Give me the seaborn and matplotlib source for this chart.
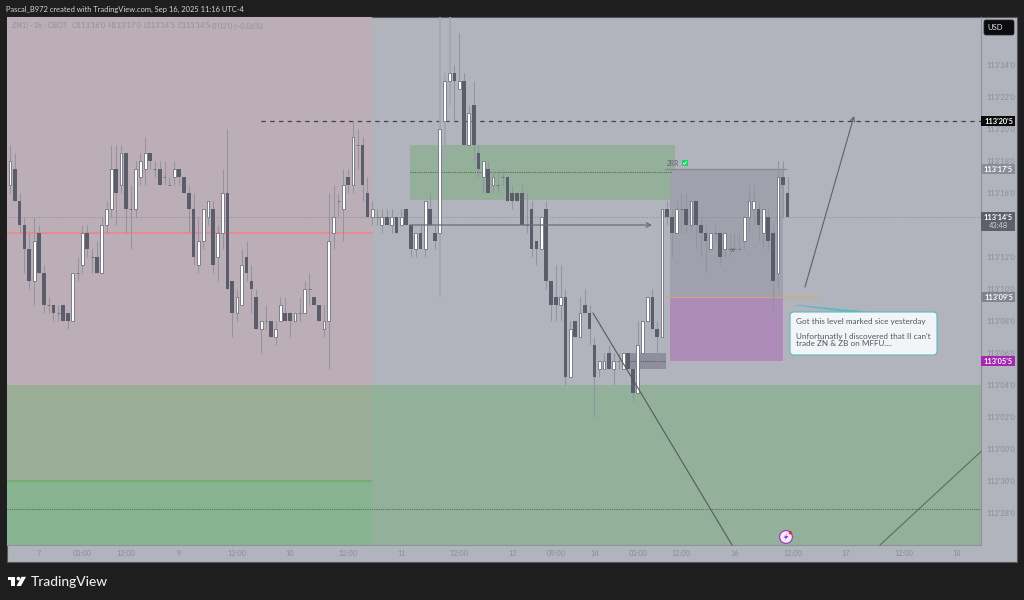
import pandas as pd
import seaborn as sns
import matplotlib.pyplot as plt
from matplotlib.patches import Rectangle, FancyBboxPatch, Circle, Polygon

# Prices are in 32nds above 113'00
opens = [16.5,17.5,15.5,14,12.5,10.5,13.5,11,9,9,
         8.5,9,8.5,8,11,11.5,13.5,12,12,11,
         14,15,17.5,16.5,18.5,15,15,17,17.5,18.5,
         17.5,17.5,17,16.5,17,17.5,17,16,15,11.5,
         13,14.5,15,12,13.5,16,10.5,8.5,9,12,
         10.5,9.5,7.5,8,8,7,8,8.5,8.5,8,
         8.5,8.5,10,9.5,9,7.5,8,13.5,15.5,15,
         17,16.5,19,19,16,14.5,14.5,14,14.5,14,
         14.5,14,15,14,12.5,13.5,12.5,15,13.5,13.5,
         20.5,23,23.5,22.5,23,19,21.5,18.5,17,17.5,
         16.5,16.5,17,17,16,16,16,14,15,13,
         12.5,15,10.5,9.5,9,9.5,4.5,8,7,9,
         8.5,6.5,5,5,6,5,5.5,5,6,5,
         3.5,6,8,9.5,7.5,7,15,14.5,13.5,15,
         15,14,15.5,14,13.5,12.5,13.5,13.5,12.5,12.5,
         12.5,12.5,13,14.5,15,15,13.5,14.5,13.5,11,
         17,16]
closes = [18,15.5,14,12.5,10.5,13,11,9,9,8.5,
          8.5,8,8,11,11,13.5,12.5,12,11,14,
          15,17.5,16,18.5,15,15,17.5,18,18.5,18,
          17.5,16.5,17,16.5,17.5,17,16,15,12,13,
          15,15.5,11.5,13.5,16,10,8.5,9.5,11.5,11,
          10,7.5,8,8,7,7.5,9,8,8,8.5,
          8.5,10,10,9,8,8,13,14.5,15.5,16.5,
          16.5,19.5,19,16.5,14.5,15,14.5,14.5,14,14.5,
          13.5,14.5,14,12.5,13.5,12.5,15.5,14,13,20,
          23,23.5,23,23,19,21,19,17.5,18,16,
          17,16.5,17,15.5,15.5,15.5,14,14,12.5,12.5,
          14.5,10.5,9,9,9.5,4.5,7.5,7,8.5,8.5,
          7.5,4.5,5.5,5.5,5,5.5,5.5,6,5,3.5,
          6.5,8,9.5,7.5,7,15,14.5,13.5,15,15,
          14,15.5,14,13.5,13,13.5,13.5,12,13.5,12.5,
          12.5,12.5,14.5,15.5,15.5,14,15,13,10.5,17,
          16.5,14.5]
highs = [19,18.5,16,14.5,13.5,14.5,14,11.5,9.5,9,
         9,9,8.5,11,12,14,14,12.5,13,14.5,
         15.5,19,19,19,18.5,16.5,18,18.5,19.5,18.5,
         18,18,18,17,18,17.5,17,16.5,16,14.5,
         15,15.5,15.5,14,17.5,20,10.5,10,12.5,13,
         11.5,10,8,9,8,8,9.5,9.5,8.5,8.5,
         9.5,10.5,11,9.5,9,9,16,16.5,16,17.5,
         17.5,20.5,20,19.5,17,15.5,15,15,15,15,
         14.5,15,15,14,13.5,14,15.5,16,14,28,
         23.5,28,24,26,23.5,21.5,23,19,18,18,
         17.5,17.5,17.5,17,16.5,16,16.5,16,15.5,13,
         14.5,15.5,10.5,11.5,11.5,10,8,8,9.5,10,
         9,7,5.5,6,6.5,6,6,6,6,5,
         8,8,9.5,10,8,15,15.5,15,15.5,16,
         16,15.5,15.5,14.5,14,13.5,14,13.5,13.5,13.5,
         13.5,13.5,14.5,16.5,16.5,15.5,15,15,14,18,
         18,17]
lows = [16,15.5,13.5,11,10,9,11,8.5,8.5,8,
        8,8,7.5,8,10.5,11,12,11,11,11,
        13.5,14.5,14,16,13.5,12.5,14.5,16.5,16.5,17.5,
        17,16.5,16.5,16.5,16.5,16.5,16,13.5,11.5,11,
        12.5,14,11,10.5,12.5,10,7,8,9,10.5,
        8.5,7.5,6,7.5,7,6.5,8,8,7,8,
        8,8.5,9,9,8,7,5,12.5,14.5,13,
        16,16,17.5,15.5,14.5,14,14,13.5,14,13.5,
        13.5,14,14,12,12,12.5,12,14,12.5,9.5,
        18,21.5,20.5,22.5,19,19,18,17,16,16,
        16,16,16.5,15.5,15,15.5,14,13.5,12,11.5,
        12.5,10,8,8,8,4,4.5,7,7,8.5,
        6.5,2,4.5,5,5,4,5,5,5,3,
        3.5,6,8,7.5,5.5,7,14,12,13.5,13.5,
        13.5,13.5,12.5,12,11,12.5,13,11.5,12,12,
        12.5,12.5,12.5,13.5,14,13,12.5,12.5,8.5,10,
        14.5,14.5]
thick_wicks = [89, 90, 91]

price_ticks = [24, 22, 20, 18, 16, 12, 10, 8, 6, 4, 2, 0, -2, -4]
price_labels = ["113'24'0", "113'22'0", "113'20'0", "113'18'0", "113'16'0", "113'12'0", "113'10'0",
                "113'08'0", "113'06'0", "113'04'0", "113'02'0", "113'00'0", "112'30'0", "112'28'0"]
time_ticks = [6, 15, 24, 35, 47, 58, 70, 81, 93, 104, 113, 121, 130, 139, 150, 162, 173, 185, 196]
time_labels = ['7', '03:00', '12:00', '9', '12:00', '10', '12:00', '11', '12:00', '12', '09:00',
               '14', '03:00', '12:00', '16', '12:00', '17', '12:00', '18']

BG = '#b2b4bd'
TICK = '#8b8d97'

sns.set_theme(style='white')
plt.rcParams['font.family'] = ['Lato', 'DejaVu Sans']

candles = pd.DataFrame({'bar': range(len(opens)), 'open': opens, 'close': closes, 'high': highs, 'low': lows})
candles['top'] = candles[['open', 'close']].max(axis=1)
candles['bottom'] = candles[['open', 'close']].min(axis=1)
wicks = candles.melt(id_vars='bar', value_vars=['high', 'low'], value_name='price').sort_values('bar')

fig = plt.figure(figsize=(10.24, 6), dpi=100, facecolor='#1e1e1e')


def pixel_axes(z):
    a = fig.add_axes([0, 0, 1, 1], zorder=z)
    a.set_xlim(0, 1024)
    a.set_ylim(600, 0)
    a.axis('off')
    a.patch.set_alpha(0)
    return a


under = pixel_axes(0)
over = pixel_axes(2)
under.add_patch(Rectangle((7, 17), 1010, 544.5, fc=BG, ec='#55565c', lw=0.8))

# chart pane, x is bar number and y is price
ax = fig.add_axes([7 / 1024, 1 - 545 / 600, 974 / 1024, 528 / 600], zorder=1)
ax.patch.set_alpha(0)
ax.set_xlim(-0.62, 201.04)
ax.set_ylim(-6, 27)
for s in ['top', 'left']:
    ax.spines[s].set_visible(False)
for s in ['bottom', 'right']:
    ax.spines[s].set_color('#90919b')
    ax.spines[s].set_linewidth(0.8)

# zones
ax.axvspan(-0.62, 75, color='#bbaeb6', lw=0, zorder=1)
ax.axhspan(-6, 4, color='#93b09a', lw=0, zorder=1.1)
ax.fill_between([-0.62, 75], -2, 4, color='#9aae97', lw=0, zorder=1.2)
ax.fill_between([-0.62, 75], -6, -2, color='#88b391', lw=0, zorder=1.2)
ax.fill_between([82.8, 137.7], 15.56, 19, color='#94b09b', lw=0, zorder=1.3)
ax.fill_between([136.7, 160], 9.5, 17.5, color='#a0a1ac', lw=0, zorder=1.3)
ax.fill_between([136.7, 160], 5.5, 9.5, color='#ad8cb9', lw=0, zorder=1.3)
ax.fill_between([127, 135.8], 5, 6, color='#8e8f9a', lw=0, zorder=1.3)

ax.plot([-0.62, 75], [13.5, 13.5], color='#e88a90', lw=1.3, zorder=1.5)
ax.plot([-0.62, 75], [-2, -2], color='#68ae6c', lw=1.1, zorder=1.5)
ax.axhline(14.5, color='#8b8c94', lw=0.7, ls=(0, (1, 1.5)), zorder=1.5)
ax.axhline(-3.72, color='#56705c', lw=0.8, ls=(0, (1, 1)), zorder=1.5)
ax.plot([82.8, 137], [17.3, 17.3], color='#4f6c57', lw=0.8, ls=(0, (1, 1)), zorder=1.5)
ax.plot([127, 135.8], [5.5, 5.5], color='#555660', lw=0.7, ls=(0, (1, 1)), zorder=1.5)
ax.plot([52, 201.04], [20.5, 20.5], color='#43444a', lw=0.9, ls=(0, (3.5, 3.5)), zorder=1.5)
ax.plot([135, 167.5], [9.5, 9.5], color='#d8a668', lw=0.7, zorder=1.5)
ax.plot([135.6, 160.7], [17.5, 17.5], color='#85868f', lw=0.9, zorder=1.5)

# candles
sns.lineplot(data=wicks[~wicks['bar'].isin(thick_wicks)], x='bar', y='price', units='bar', estimator=None,
             color='#92949f', lw=0.75, sort=False, legend=False, ax=ax, zorder=3, solid_capstyle='butt')
sns.lineplot(data=wicks[wicks['bar'].isin(thick_wicks)], x='bar', y='price', units='bar', estimator=None,
             color='#a3a5b0', lw=1.3, sort=False, legend=False, ax=ax, zorder=3, solid_capstyle='butt')
white = candles[candles['close'] > candles['open']]
dark = candles[candles['close'] < candles['open']]
doji = candles[candles['close'] == candles['open']]
ax.bar(dark['bar'], dark['top'] - dark['bottom'], bottom=dark['bottom'], width=0.76, color='#5b5d6b', lw=0, zorder=4)
ax.bar(white['bar'], white['top'] - white['bottom'], bottom=white['bottom'], width=0.58, color='white',
       edgecolor='#7d7e88', lw=0.7, zorder=4)
ax.bar(doji['bar'], 0, bottom=doji['bottom'], width=0.6, color='#6c6d78', edgecolor='#6c6d78', lw=0.6, zorder=4)

ax.set_xlabel('')
ax.set_ylabel('')
ax.yaxis.tick_right()
ax.set_yticks(price_ticks, price_labels)
ax.set_xticks(time_ticks, time_labels)
ax.tick_params(axis='both', length=0, labelsize=5.3, labelcolor=TICK)
ax.tick_params(axis='y', pad=3.6)
ax.tick_params(axis='x', pad=3.8)

# drawings, in pixels
line_col = '#5f6068'
over.annotate('', xy=(652, 225), xytext=(410, 225),
              arrowprops=dict(arrowstyle='->', color='#6b6c74', lw=0.9, mutation_scale=8, shrinkA=0, shrinkB=0))
over.annotate('', xy=(854, 116), xytext=(805, 287),
              arrowprops=dict(arrowstyle='->', color=line_col, lw=0.8, mutation_scale=8, shrinkA=0, shrinkB=0))
over.plot([593, 732], [313, 545], color='#565a5c', lw=0.8)
over.plot([880, 981], [545, 451.5], color='#5c6e5e', lw=0.8)

# price labels
boxes = [("113'20'5", 121, '#0a0a0a'), ("113'17'5", 169, '#8b8c98'),
         ("113'09'5", 297, '#83848f'), ("113'05'5", 361, '#a428b0')]
for text, y, col in boxes:
    over.add_patch(Rectangle((981, y - 5.2), 34, 10.4, fc=col, lw=0))
    over.text(998.5, y, text, color='white', fontsize=5.3, fontweight='bold', ha='center', va='center')
over.add_patch(Rectangle((981, 211.7), 34, 19, fc='#5e5f6b', lw=0))
over.text(998.5, 217, "113'14'5", color='white', fontsize=5.3, fontweight='bold', ha='center', va='center')
over.text(998.5, 226, '43:48', color='#cfd0d6', fontsize=5.3, ha='center', va='center')
over.add_patch(FancyBboxPatch((984, 20), 30, 15, boxstyle='round,pad=0,rounding_size=2', fc='#0c0c0e', ec='#26262a', lw=0.5))
over.text(995, 27.8, 'USD', color='#e4e4e4', fontsize=5.5, ha='center', va='center')

# note
over.add_patch(Polygon([(795, 305), (846, 311.7), (866, 311.7)], fc='#5bb9c1', ec='#5bb9c1', lw=0.4))
over.add_patch(FancyBboxPatch((790, 312), 147, 43, boxstyle='round,pad=0,rounding_size=4', fc='#f2f5f7', ec='#5fb8c0', lw=0.8))
over.text(796, 321.5, 'Got this level marked sice yesterday', color='#55565f', fontsize=5.9, va='center')
over.text(796, 336.3, "Unfortunatly I discovered that II can't", color='#55565f', fontsize=5.9, va='center')
over.text(796, 344, 'trade ZN & ZB on MFFU....', color='#55565f', fontsize=5.9, va='center')

# 2RR tag
over.text(667, 163, '2RR', color='#62636c', fontsize=4.8, va='center')
over.add_patch(Rectangle((682, 160.3), 5.5, 5.5, fc='#22d06a', lw=0))
over.plot([683.2, 684.5, 686.5], [163, 164.4, 161.6], color='white', lw=0.5)
over.text(733, 249, 'x', color='#55565f', fontsize=4.8, ha='center', va='center')

# alert icon
over.add_patch(Circle((786, 537), 6.4, fc='#f3eef6', ec='#a63cc0', lw=0.9))
over.add_patch(Polygon([(787.5, 533), (783.5, 538), (786, 538), (784.5, 541), (788.5, 536), (786, 536)], fc='#a63cc0', lw=0))
over.add_patch(Circle((790.4, 532.8), 1.7, fc='#ee2a2a', lw=0))

# header and legend
over.text(6, 9.2, 'Pascal_B972 created with TradingView.com, Sep 16, 2025 11:16 UTC-4', color='#d4d4d4',
          fontsize=5.4, va='center')
legend_parts = [(11.5, 'ZN1! · 1h · CBOT'), (72, "O113'16'0"), (107.5, "H113'17'0"), (143.5, "L113'14'5"),
                (178, "C113'14'5"), (208, "−0'02'0 (−0.06%)")]
for x, text in legend_parts:
    over.text(x, 26, text, color='#8f919b', fontsize=5.2, va='center')

# logo
over.add_patch(Polygon([(7.5, 576.8), (15, 576.8), (15, 586), (10.5, 586), (10.5, 579.6), (7.5, 579.6)], fc='white', lw=0))
over.add_patch(Circle((18.4, 578.6), 1.8, fc='white', lw=0))
over.add_patch(Polygon([(21.5, 576.8), (26, 576.8), (21, 586), (16.5, 586)], fc='white', lw=0))
over.text(30.5, 581.5, 'TradingView', color='#ececec', fontsize=9.9, fontweight='medium', va='center')

fig.savefig('out.png', dpi=100, facecolor=fig.get_facecolor())
